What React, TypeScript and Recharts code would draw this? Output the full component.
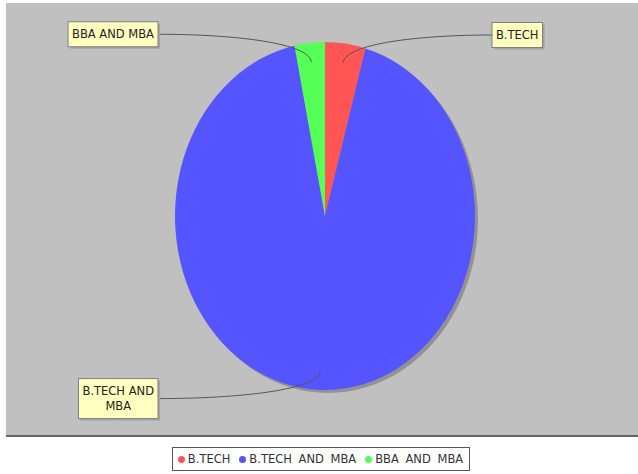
import { PieChart, Pie, Cell, Legend } from "recharts";

const categories = ["B.TECH", "B.TECH AND MBA", "BBA AND MBA"];
const counts = [4, 85, 3];
const colors = ["#ff5555", "#5555ff", "#55ff55"];
const labelLines = [["B.TECH"], ["B.TECH AND", "MBA"], ["BBA AND MBA"]];

const pieData = categories.map((name, i) => ({ name, value: counts[i] }));
const shadowData = [{ name: "shadow", value: 1 }];

// pie geometry (jfreechart draws an ellipse, so the circle gets squashed with css)
const CX = 325;
const CY = 216;
const RX = 150;
const RY = 174;
const SY = RY / RX;

const FONT = "11.5px 'DejaVu Sans', sans-serif";

let ctx: CanvasRenderingContext2D | null = null;
const measure = (s: string) => {
  if (!ctx) ctx = document.createElement("canvas").getContext("2d");
  if (!ctx) return s.length * 7;
  ctx.font = FONT;
  return ctx.measureText(s).width;
};

const renderLabel = (props: any) => {
  const { midAngle, index } = props;
  const rad = (midAngle * Math.PI) / 180;
  const cos = Math.cos(rad);
  const sin = Math.sin(rad);
  const right = cos >= 0;

  const inner = { x: CX + RX * 0.89 * cos, y: CY - RY * 0.89 * sin };
  const bend = { x: CX + RX * 1.0 * cos, y: CY - RY * 1.0 * sin };

  const lines = labelLines[index];
  const w = Math.max(...lines.map(measure)) + 8;
  const h = lines.length * 15 + 10;
  const boxCy = CY - RY * 1.05 * sin;
  const edgeX = right ? CX + 167 : CX - 167;
  const boxX = right ? edgeX : edgeX - w;
  const boxY = boxCy - h / 2;

  const path = `M${inner.x},${inner.y} C${bend.x},${bend.y} ${(bend.x + edgeX) / 2},${boxCy} ${edgeX},${boxCy}`;

  return (
    <g key={`lbl-${index}`}>
      <path d={path} fill="none" stroke="#555" strokeWidth={1} />
      <rect x={boxX + 2} y={boxY + 2} width={w} height={h} fill="#a4a4a4" />
      <rect x={boxX} y={boxY} width={w} height={h} fill="#ffffc0" stroke="#808080" strokeWidth={1} />
      {lines.map((ln, i) => (
        <text
          key={i}
          x={boxX + w / 2}
          y={boxY + 5 + 11 + i * 15}
          textAnchor="middle"
          fontFamily="'DejaVu Sans', sans-serif"
          fontSize={11.5}
          fill="#222"
        >
          {ln}
        </text>
      ))}
    </g>
  );
};

const LegendBox = () => (
  <div style={{ display: "flex", justifyContent: "center" }}>
    <div
      style={{
        display: "flex",
        alignItems: "center",
        border: "1px solid #555",
        background: "#fff",
        height: 22,
        padding: "0 6px 0 5px",
        fontFamily: "'DejaVu Sans', sans-serif",
        fontSize: 11.5,
        color: "#333",
        wordSpacing: 3,
        marginLeft: 4,
      }}
    >
      {categories.map((c, i) => (
        <span key={c} style={{ display: "flex", alignItems: "center", marginRight: i < categories.length - 1 ? 9 : 0 }}>
          <span
            style={{
              width: 7,
              height: 7,
              borderRadius: "50%",
              background: colors[i],
              marginRight: 3,
              display: "inline-block",
            }}
          />
          {c}
        </span>
      ))}
    </div>
  </div>
);

export default function App() {
  return (
    <div style={{ position: "absolute", left: 0, top: 0, width: 638, height: 474, background: "#fff" }}>
      <div
        style={{
          position: "absolute",
          left: 6,
          top: 3,
          width: 632,
          height: 432,
          background: "#c0c0c0",
          borderBottom: "2px solid #666",
        }}
      />
      {/* the pie itself, stretched vertically into an ellipse */}
      <div
        style={{
          position: "absolute",
          left: 0,
          top: 0,
          transform: `scaleY(${SY})`,
          transformOrigin: `${CX}px ${CY}px`,
        }}
      >
        <PieChart width={638} height={474} margin={{ top: 0, right: 0, bottom: 0, left: 0 }}>
          <Pie
            data={shadowData}
            dataKey="value"
            cx={CX + 3}
            cy={CY + 3 / SY}
            outerRadius={RX}
            startAngle={90}
            endAngle={-270}
            fill="#929292"
            stroke="none"
            isAnimationActive={false}
          />
          <Pie
            data={pieData}
            dataKey="value"
            cx={CX}
            cy={CY}
            outerRadius={RX}
            startAngle={90}
            endAngle={-270}
            stroke="none"
            isAnimationActive={false}
          >
            {pieData.map((d, i) => (
              <Cell key={d.name} fill={colors[i]} />
            ))}
          </Pie>
        </PieChart>
      </div>
      {/* labels and legend, unscaled */}
      <div style={{ position: "absolute", left: 0, top: 0 }}>
        <PieChart width={638} height={474} margin={{ top: 0, right: 0, bottom: 0, left: 0 }}>
          <Pie
            data={pieData}
            dataKey="value"
            cx={CX}
            cy={CY}
            outerRadius={RX}
            startAngle={90}
            endAngle={-270}
            fill="none"
            stroke="none"
            label={renderLabel}
            labelLine={false}
            isAnimationActive={false}
          />
          <Legend content={<LegendBox />} wrapperStyle={{ top: 447, left: 0, width: 638 }} />
        </PieChart>
      </div>
    </div>
  );
}
